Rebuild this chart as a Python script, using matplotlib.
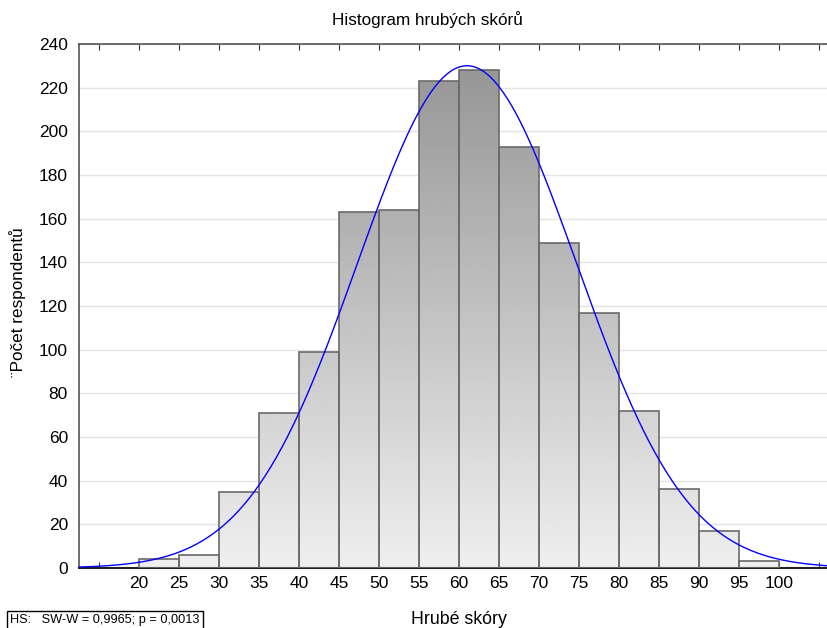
import numpy as np
import matplotlib
matplotlib.use('Agg')
import matplotlib.pyplot as plt
from matplotlib.patches import Rectangle

plt.rcParams['font.family'] = ['Liberation Sans', 'DejaVu Sans']

# histogram data (bin left edges, counts)
bin_left = [20, 25, 30, 35, 40, 45, 50, 55, 60, 65, 70, 75, 80, 85, 90, 95]
counts = [4, 6, 35, 71, 99, 163, 164, 223, 228, 193, 149, 117, 72, 36, 17, 3]
bin_width = 5
tick_pos = list(range(15, 110, 5))
tick_labels = ['' if t in (15, 105) else str(t) for t in tick_pos]

# fitted normal curve
mean_fit = 61.0
sd_fit = 13.7
n_total = sum(counts)

fig = plt.figure(figsize=(8.28, 6.28), dpi=100)
ax = fig.add_axes([79/828, 1 - 568/628, 748/828, 524/628])

xmin, xmax = 12.5, 106.0
ymax = 240

# gradient grey fill clipped to each bar
grad = np.linspace(239, 150, 256).reshape(-1, 1) / 255.0
grad = grad * np.ones((1, 2))
for left, c in zip(bin_left, counts):
    rect = Rectangle((left, 0), bin_width, c, facecolor='none',
                     edgecolor='#6a6a6a', linewidth=1.2, zorder=3)
    ax.add_patch(rect)
    im = ax.imshow(grad, cmap='gray', vmin=0, vmax=1, origin='lower',
                   extent=[xmin, xmax, 0, 230], aspect='auto', zorder=2,
                   interpolation='bilinear')
    im.set_clip_path(rect)
ax.set_xlim(xmin, xmax)
ax.set_ylim(0, ymax)

# normal curve
xs = np.linspace(xmin, xmax, 400)
ys = n_total * bin_width / (sd_fit * np.sqrt(2 * np.pi)) * np.exp(-0.5 * ((xs - mean_fit) / sd_fit) ** 2)
ax.plot(xs, ys, color='#0000ff', linewidth=1.0, zorder=4)

ax.set_yticks(range(0, 241, 20))
ax.yaxis.grid(True, color='#e4e4e4', linewidth=1.0, zorder=0)
ax.set_axisbelow(True)
ax.set_xticks(tick_pos)
ax.set_xticklabels(tick_labels)
ax.tick_params(axis='x', direction='in', length=4, top=True, labelsize=12.5, pad=6, color='#333333')
ax.tick_params(axis='y', direction='in', length=0, labelsize=12.5, pad=8)

for s in ['left', 'top']:
    ax.spines[s].set_color('#555555')
    ax.spines[s].set_linewidth(1.2)
ax.spines['bottom'].set_color('#222222')
ax.spines['bottom'].set_linewidth(1.5)
ax.spines['right'].set_visible(False)

fig.text(427/828, 1 - 20/628, 'Histogram hrubých skórů', fontsize=12.3, ha='center', va='center')
ax.set_xlabel('Hrubé skóry', fontsize=12.8)
ax.xaxis.set_label_coords((459 - 79) / 748, -(620 - 568) / 524)
ax.xaxis.label.set_va('center')
ax.set_ylabel('¨Počet respondentů', fontsize=12.3)
ax.yaxis.set_label_coords(-(79 - 18) / 748, (568 - 302) / 524)
ax.yaxis.label.set_va('center')

fig.text(10/828, 1 - 620/628, 'HS:   SW-W = 0,9965; p = 0,0013', fontsize=9.2, va='center',
         bbox=dict(boxstyle='square,pad=0.25', facecolor='white', edgecolor='black', linewidth=1))

fig.savefig('out.png', dpi=100)
